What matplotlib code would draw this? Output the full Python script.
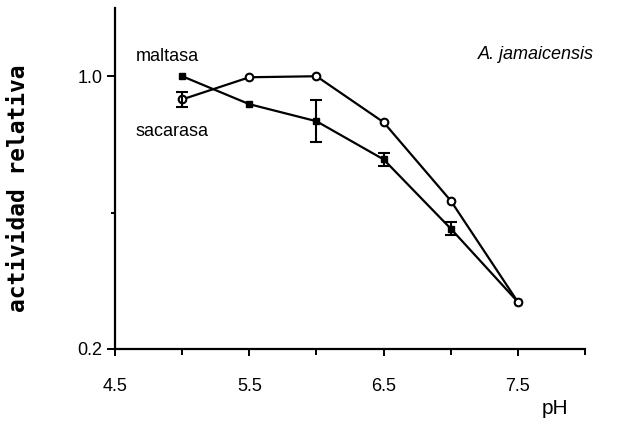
import matplotlib
matplotlib.use('Agg')
import matplotlib.pyplot as plt

plt.rcParams['font.family'] = ['Liberation Sans Narrow', 'Liberation Sans', 'DejaVu Sans']

# pH y actividad relativa
ph = [5.0, 5.5, 6.0, 6.5, 7.0, 7.5]
maltasa = [1.0, 0.918, 0.868, 0.756, 0.553, 0.338]
maltasa_err = [0.0, 0.0, 0.062, 0.018, 0.02, 0.0]
sacarasa = [0.932, 0.997, 1.0, 0.865, 0.635, 0.338]
sacarasa_err = [0.022, 0.0, 0.0, 0.0, 0.0, 0.0]

xticks = [4.5, 5.5, 6.5, 7.5]
xminor = [5.0, 6.0, 7.0, 8.0]
yticks = [0.2, 1.0]
yminor = [0.6]

fig = plt.figure(figsize=(6.22, 4.24), dpi=100)
ax = fig.add_axes([0.185, 0.177, 0.7555, 0.804])


def barras(x, y, err):
    # solo los puntos que tienen desviación
    xs = [a for a, e in zip(x, err) if e > 0]
    ys = [b for b, e in zip(y, err) if e > 0]
    es = [e for e in err if e > 0]
    ax.errorbar(xs, ys, yerr=es, fmt='none', ecolor='black',
                capsize=4, elinewidth=1.5, capthick=1.5)


ax.plot(ph, maltasa, color='black', lw=1.6, marker='s', ms=4.5,
        mfc='black', mec='black')
barras(ph, maltasa, maltasa_err)
ax.plot(ph, sacarasa, color='black', lw=1.6, marker='o', ms=5.5,
        mfc='white', mec='black', mew=1.5)
barras(ph, sacarasa, sacarasa_err)

ax.set_xlim(4.5, 8.0)
ax.set_ylim(0.2, 1.2)
ax.set_xticks(xticks)
ax.set_xticklabels([str(v) for v in xticks])
ax.set_xticks(xminor, minor=True)
ax.set_yticks(yticks)
ax.set_yticklabels([str(v) for v in yticks])
ax.set_yticks(yminor, minor=True)

for s in ['top', 'right']:
    ax.spines[s].set_visible(False)
for s in ['left', 'bottom']:
    ax.spines[s].set_linewidth(1.6)

ax.tick_params(axis='x', which='major', direction='out', length=5, width=1.4,
               pad=16, labelsize=13)
ax.tick_params(axis='x', which='minor', direction='out', length=4, width=1.4)
ax.tick_params(axis='y', which='major', direction='out', length=6, width=1.4,
               pad=3, labelsize=13)
ax.tick_params(axis='y', which='minor', direction='out', length=3, width=1.4)

ax.text(4.655, 1.059, 'maltasa', fontsize=13, va='center', ha='left')
ax.text(4.65, 0.838, 'sacarasa', fontsize=13, va='center', ha='left')
ax.text(8.07, 1.065, 'A. jamaicensis', fontsize=13, style='italic',
        va='center', ha='right', clip_on=False)

fig.text(555 / 622, 1 - 408 / 424, 'pH', fontsize=15, ha='center', va='center')
fig.text(19 / 622, 1 - 188 / 424, 'actividad relativa', rotation=90,
         fontsize=16.5, fontweight='bold', family='DejaVu Sans Mono',
         ha='center', va='center')

fig.savefig('out.png', dpi=100)
